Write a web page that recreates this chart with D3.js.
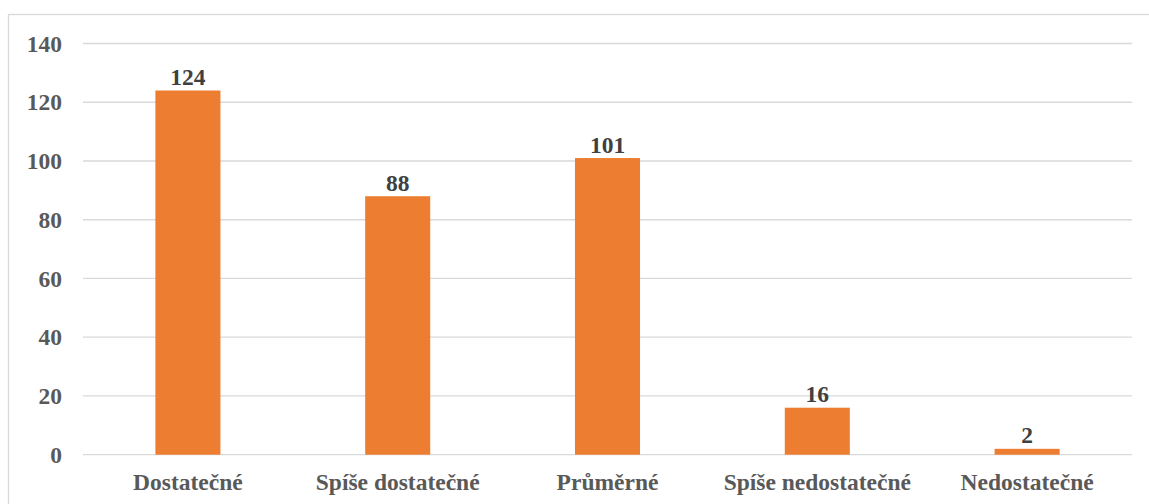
<!DOCTYPE html>
<html>
<head>
<meta charset="utf-8">
<script src="https://cdn.jsdelivr.net/npm/d3@7"></script>
<style>
  html, body { margin: 0; padding: 0; background: #fff; }
  svg { display: block; }
  svg text { font-family: "Liberation Serif", "Times New Roman", Times, serif; font-weight: bold; }
</style>
</head>
<body>
<svg id="chart" width="1149" height="504"></svg>
<script>
// Hodnocení – počty odpovědí
const categories = ["Dostatečné", "Spíše dostatečné", "Průměrné", "Spíše nedostatečné", "Nedostatečné"];
const counts = [124, 88, 101, 16, 2];
const yTicks = [0, 20, 40, 60, 80, 100, 120, 140];

const svg = d3.select("#chart");
const W = 1149, H = 504;
const plot = { left: 83, right: 1132, top: 43.5, bottom: 454.7 };
const fontFamily = '"Liberation Serif", "Times New Roman", Times, serif';

// chart frame (right and bottom edges run past the canvas)
svg.append("rect")
  .attr("x", 8.5).attr("y", 14.5)
  .attr("width", W + 10).attr("height", H + 10)
  .attr("fill", "#fff")
  .attr("stroke", "#D9D9D9").attr("stroke-width", 1.3);

const x = d3.scaleBand()
  .domain(categories)
  .range([plot.left, plot.right])
  .paddingInner(0.69).paddingOuter(0.345);

const y = d3.scaleLinear()
  .domain([0, 140])
  .range([plot.bottom, plot.top]);

// horizontal gridlines
svg.append("g")
  .selectAll("line")
  .data(yTicks)
  .join("line")
  .attr("x1", plot.left).attr("x2", plot.right)
  .attr("y1", d => y(d)).attr("y2", d => y(d))
  .attr("stroke", "#D9D9D9").attr("stroke-width", 1.3);

// y axis labels
const yAxis = d3.axisLeft(y).tickValues(yTicks).tickSize(0).tickPadding(0);
const gy = svg.append("g")
  .attr("transform", `translate(${plot.left - 21},0)`)
  .call(yAxis)
  .attr("font-family", null).attr("font-size", null);
gy.select(".domain").remove();
gy.selectAll("text")
  .style("font-family", fontFamily).style("font-size", "23.5px").style("font-weight", "bold")
  .attr("fill", "#595959");

// bars
svg.append("g")
  .selectAll("rect")
  .data(categories)
  .join("rect")
  .attr("x", d => x(d))
  .attr("width", x.bandwidth())
  .attr("y", (d, i) => y(counts[i]))
  .attr("height", (d, i) => y(0) - y(counts[i]))
  .attr("fill", "#ED7D31");

// value labels
svg.append("g")
  .selectAll("text")
  .data(categories)
  .join("text")
  .attr("x", d => x(d) + x.bandwidth() / 2)
  .attr("y", (d, i) => y(counts[i]) - 5.5)
  .attr("text-anchor", "middle")
  .style("font-family", fontFamily).style("font-size", "23.5px").style("font-weight", "bold")
  .attr("fill", "#404040")
  .text((d, i) => counts[i]);

// category labels
const xAxis = d3.axisBottom(x).tickSize(0).tickPadding(0);
const gx = svg.append("g")
  .attr("transform", `translate(0,${plot.bottom})`)
  .call(xAxis)
  .attr("font-family", null).attr("font-size", null);
gx.select(".domain").remove();
gx.selectAll("text")
  .attr("dy", null)
  .attr("y", 35.5)
  .style("font-family", fontFamily).style("font-size", "23.5px").style("font-weight", "bold")
  .attr("fill", "#595959");
</script>
</body>
</html>
